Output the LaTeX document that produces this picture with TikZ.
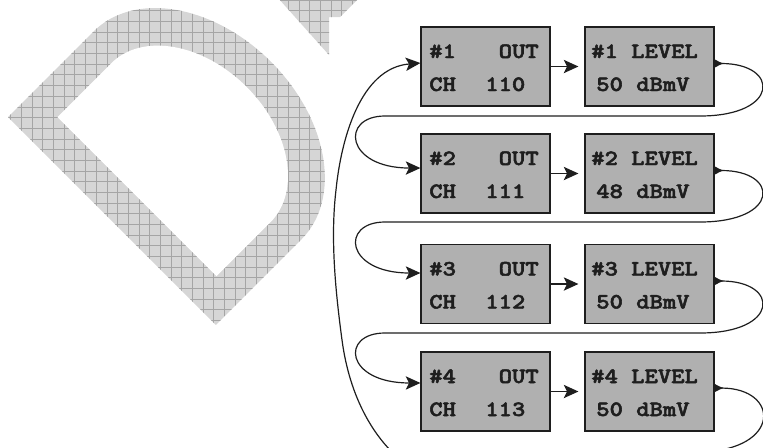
\documentclass[tikz,border=0pt]{standalone}
\usepackage{fontspec}
\newfontfamily\boxfont{lmmonolt10-bold.otf}[FakeBold=2.2]
\usetikzlibrary{arrows.meta}
\definecolor{boxgray}{RGB}{176,176,176}
\definecolor{wmfill}{RGB}{214,214,214}
\definecolor{wmline}{RGB}{165,165,165}
\definecolor{ink}{RGB}{30,30,30}
\newcommand\WMgridlines{%
  \foreach \k in {0,...,72}{\draw[wmline,line width=0.3pt] (\k*10.67,0) -- (\k*10.67,447);}%
  \foreach \k in {0,...,42}{\draw[wmline,line width=0.3pt] (0,\k*10.67) -- (763,\k*10.67);}%
}
\tikzset{
  box/.style={draw=ink, line width=0.9pt, fill=boxgray, minimum width=96.75pt, minimum height=59.25pt, inner sep=0pt},
  lbl/.style={font=\boxfont\fontsize{16.4}{18}\selectfont, text=ink, inner sep=0pt, xscale=1.16, transform shape},
  conn/.style={draw=ink, line width=0.9pt},
  arr/.style={-{Stealth[length=11pt,width=10pt,inset=2.5pt]}},
  tailarr/.style={{Latex[reversed,length=7pt,width=6.5pt]}-{Stealth[length=11pt,width=10pt,inset=2.5pt]}}
}
\begin{document}
\begin{tikzpicture}[x=0.75pt,y=-0.75pt]
\useasboundingbox (0,0) rectangle (763,447);
\clip (0,0) rectangle (763,447);
% ---- watermark: D ----
\begin{scope}
  \begin{scope}[shift={(8,117)}, x={(0.53033pt,0.53033pt)}, y={(0.53033pt,-0.53033pt)}]
    \fill[wmfill] (0,0) -- (121,0) .. controls (178.4,0) and (225,65.8) .. (225,147)
          .. controls (225,228.2) and (178.4,294) .. (121,294) -- (0,294) -- cycle;
    \clip (0,0) -- (121,0) .. controls (178.4,0) and (225,65.8) .. (225,147)
          .. controls (225,228.2) and (178.4,294) .. (121,294) -- (0,294) -- cycle;
    \begin{scope}[x={(0.75pt,0pt)}, y={(0pt,-0.75pt)}, shift={(-8,-117)}]
      \WMgridlines
    \end{scope}
  \end{scope}
  \begin{scope}[shift={(8,117)}, x={(0.53033pt,0.53033pt)}, y={(0.53033pt,-0.53033pt)}]
    \fill[white] (35,35) -- (111,35) .. controls (154.6,35) and (190,85.4) .. (190,147.5)
          .. controls (190,209.6) and (154.6,260) .. (111,260) -- (35,260) -- cycle;
  \end{scope}
\end{scope}
% ---- watermark: piece of R ----
\begin{scope}
  \fill[wmfill] (278,-2) -- (359,-2) -- (340,17) -- (329,17) -- (329,55) -- cycle;
  \clip (278,-2) -- (359,-2) -- (340,17) -- (329,17) -- (329,55) -- cycle;
  \WMgridlines
\end{scope}
% ---- boxes ----
\node[box] (o1) at (485.5,66.5) {};
\node[box] (l1) at (649.5,66.5) {};
\node[box] (o2) at (485.5,173.5) {};
\node[box] (l2) at (649.5,173.5) {};
\node[box] (o3) at (485.5,284) {};
\node[box] (l3) at (649.5,284) {};
\node[box] (o4) at (485.5,391.5) {};
\node[box] (l4) at (649.5,391.5) {};
% ---- texts ----
\node[lbl, anchor=base west] (a1) at (429,58) {\#1};
\node[lbl, anchor=base east] (b1) at (539,58) {OUT};
\node[lbl, anchor=base west] (c1) at (429,91) {CH};
\node[lbl, anchor=base west] (d1) at (485,91) {110};
\node[lbl, anchor=base west] (e1) at (591,58) {\#1 LEVEL};
\node[lbl, anchor=base west] (f1) at (596,91) {50 dBmV};
\node[lbl, anchor=base west] (a2) at (429,165) {\#2};
\node[lbl, anchor=base east] (b2) at (539,165) {OUT};
\node[lbl, anchor=base west] (c2) at (429,198) {CH};
\node[lbl, anchor=base west] (d2) at (485,198) {111};
\node[lbl, anchor=base west] (e2) at (591,165) {\#2 LEVEL};
\node[lbl, anchor=base west] (f2) at (596,198) {48 dBmV};
\node[lbl, anchor=base west] (a3) at (429,275.5) {\#3};
\node[lbl, anchor=base east] (b3) at (539,275.5) {OUT};
\node[lbl, anchor=base west] (c3) at (429,308.5) {CH};
\node[lbl, anchor=base west] (d3) at (485,308.5) {112};
\node[lbl, anchor=base west] (e3) at (591,275.5) {\#3 LEVEL};
\node[lbl, anchor=base west] (f3) at (596,308.5) {50 dBmV};
\node[lbl, anchor=base west] (a4) at (429,383) {\#4};
\node[lbl, anchor=base east] (b4) at (539,383) {OUT};
\node[lbl, anchor=base west] (c4) at (429,416) {CH};
\node[lbl, anchor=base west] (d4) at (485,416) {113};
\node[lbl, anchor=base west] (e4) at (591,383) {\#4 LEVEL};
\node[lbl, anchor=base west] (f4) at (596,416) {50 dBmV};
% ---- straight arrows OUT -> LEVEL ----
\foreach \k in {1,...,4}{
  \draw[conn, arr] (o\k.east) -- ([xshift=-4.5pt]l\k.west);
}
% ---- loops LEVEL k -> OUT k+1 ----
\draw[conn, tailarr] ([yshift=2.25pt]l1.east) .. controls (780,63.5) and (780,116) .. (700,116)
  -- (385,116) .. controls (340,116) and (345,168) .. ([yshift=4.1pt]o2.west);
\draw[conn, tailarr] ([yshift=2.25pt]l2.east) .. controls (780,170.5) and (780,222) .. (700,222)
  -- (385,222) .. controls (340,222) and (345,273) .. ([yshift=8.25pt]o3.west);
\draw[conn, tailarr] ([yshift=2.25pt]l3.east) .. controls (780,281) and (780,333) .. (700,333)
  -- (385,333) .. controls (340,333) and (345,383) .. ([yshift=6.4pt]o4.west);
% ---- big return loop LEVEL 4 -> OUT 1 ----
\draw[conn, tailarr] ([yshift=2.6pt]l4.east) .. controls (780,388) and (782,450) .. (700,452)
  -- (392,452) .. controls (375,435) and (350,400) .. (342,340)
  .. controls (336,295) and (330,240) .. (336,190)
  .. controls (341,140) and (360,68) .. ([yshift=2.6pt]o1.west);
\end{tikzpicture}
\end{document}
